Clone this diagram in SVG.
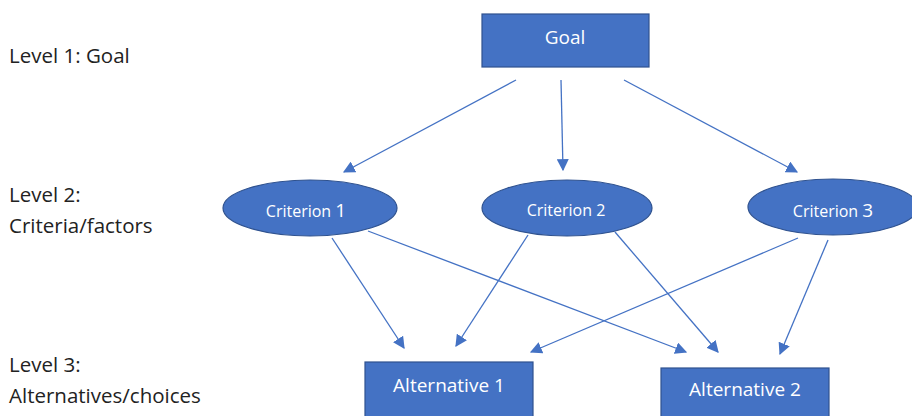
<svg xmlns="http://www.w3.org/2000/svg" width="912" height="416" viewBox="0 0 912 416">
<defs>
<style>
.node{fill:#4472C4;stroke:#2F528F;stroke-width:1.2}
.nt{fill:#fff;font-family:"Open Sans","Liberation Sans",sans-serif;text-anchor:middle}
.lbl{fill:#222;font-family:"Open Sans","Liberation Sans",sans-serif;font-size:20.5px}
.edge{stroke:#4472C4;stroke-width:1.3;fill:none;marker-end:url(#ah)}
</style>
<marker id="ah" viewBox="0 0 10 10" refX="9" refY="5" markerWidth="12" markerHeight="12" orient="auto" markerUnits="userSpaceOnUse">
<path d="M0,0 L10,5 L0,10 z" fill="#4472C4"/>
</marker>
</defs>
<rect width="912" height="416" fill="#fff"/>
<g id="labels">
<text class="lbl" x="9" y="63">Level 1: Goal</text>
<text class="lbl" x="9" y="202">Level 2:</text>
<text class="lbl" x="9" y="233">Criteria/factors</text>
<text class="lbl" x="9" y="372">Level 3:</text>
<text class="lbl" x="9" y="403">Alternatives/choices</text>
</g>
<g id="connectors">
<line class="edge" x1="516" y1="80" x2="344" y2="172"/>
<line class="edge" x1="561" y1="80" x2="563" y2="170"/>
<line class="edge" x1="624" y1="80" x2="797" y2="172"/>
<line class="edge" x1="332" y1="238" x2="404" y2="348"/>
<line class="edge" x1="368" y1="231" x2="686" y2="352"/>
<line class="edge" x1="528" y1="235" x2="456" y2="346"/>
<line class="edge" x1="615" y1="232" x2="718" y2="352"/>
<line class="edge" x1="798" y1="238" x2="531" y2="352"/>
<line class="edge" x1="828" y1="240" x2="780" y2="354"/>
</g>
<g id="goal">
<rect class="node" x="482" y="14" width="167" height="53"/>
<text class="nt" x="565" y="44" font-size="19">Goal</text>
</g>
<g id="criterion1">
<ellipse class="node" cx="310" cy="208" rx="87" ry="28"/>
<text class="nt" x="306" y="217" font-size="16">Criterion <tspan font-size="19">1</tspan></text>
</g>
<g id="criterion2">
<ellipse class="node" cx="567" cy="208" rx="85" ry="28"/>
<text class="nt" x="566" y="216" font-size="16">Criterion 2</text>
</g>
<g id="criterion3">
<ellipse class="node" cx="833" cy="207" rx="85" ry="28"/>
<text class="nt" x="833" y="217" font-size="16">Criterion <tspan font-size="19">3</tspan></text>
</g>
<g id="alternative1">
<rect class="node" x="365" y="362" width="168" height="60"/>
<text class="nt" x="449" y="392" font-size="19">Alternative 1</text>
</g>
<g id="alternative2">
<rect class="node" x="661" y="368" width="168" height="54"/>
<text class="nt" x="745" y="396" font-size="19">Alternative 2</text>
</g>
</svg>
